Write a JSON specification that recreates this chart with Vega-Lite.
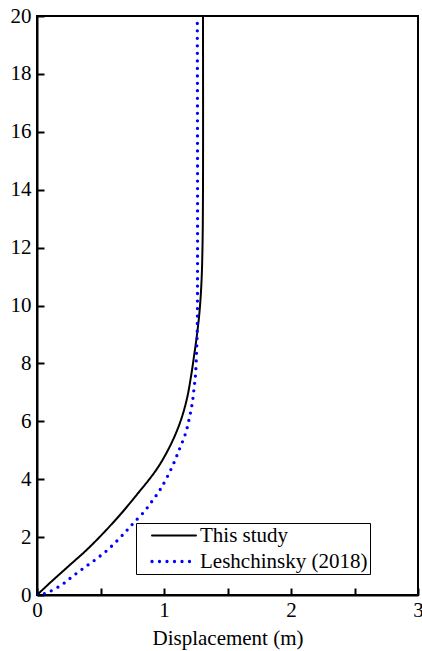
{
  "$schema": "https://vega.github.io/schema/vega-lite/v6.json",
  "width": 381,
  "height": 579,
  "autosize": {"type": "none"},
  "padding": {"left": 37, "top": 16, "right": 4, "bottom": 56},
  "background": "white",
  "config": {
    "font": "Liberation Serif",
    "view": {"stroke": "black", "strokeWidth": 2},
    "axis": {
      "grid": false,
      "domainColor": "black",
      "domainWidth": 2,
      "tickColor": "black",
      "tickWidth": 2,
      "labelFont": "Liberation Serif",
      "labelFontSize": 21,
      "labelColor": "black",
      "titleFont": "Liberation Serif",
      "titleFontSize": 21,
      "titleFontWeight": "normal",
      "titleColor": "black"
    },
    "legend": {"labelFont": "Liberation Serif", "rowPadding": 4}
  },
  "data": {
    "values": [
      {"series": "This study", "disp": 0.0, "h": 0.0},
      {"series": "This study", "disp": 0.131, "h": 0.535},
      {"series": "This study", "disp": 0.262, "h": 1.05},
      {"series": "This study", "disp": 0.394, "h": 1.57},
      {"series": "This study", "disp": 0.525, "h": 2.15},
      {"series": "This study", "disp": 0.656, "h": 2.78},
      {"series": "This study", "disp": 0.787, "h": 3.47},
      {"series": "This study", "disp": 0.942, "h": 4.34},
      {"series": "This study", "disp": 1.047, "h": 5.14},
      {"series": "This study", "disp": 1.126, "h": 5.95},
      {"series": "This study", "disp": 1.179, "h": 6.75},
      {"series": "This study", "disp": 1.213, "h": 7.56},
      {"series": "This study", "disp": 1.238, "h": 8.3},
      {"series": "This study", "disp": 1.26, "h": 9.0},
      {"series": "This study", "disp": 1.28, "h": 9.8},
      {"series": "This study", "disp": 1.295, "h": 10.8},
      {"series": "This study", "disp": 1.303, "h": 12.0},
      {"series": "This study", "disp": 1.307, "h": 14.0},
      {"series": "This study", "disp": 1.307, "h": 20.0},
      {"series": "Leshchinsky (2018)", "disp": 0.0, "h": 0.0},
      {"series": "Leshchinsky (2018)", "disp": 0.052, "h": 0.04},
      {"series": "Leshchinsky (2018)", "disp": 0.105, "h": 0.13},
      {"series": "Leshchinsky (2018)", "disp": 0.197, "h": 0.36},
      {"series": "Leshchinsky (2018)", "disp": 0.276, "h": 0.63},
      {"series": "Leshchinsky (2018)", "disp": 0.367, "h": 0.93},
      {"series": "Leshchinsky (2018)", "disp": 0.459, "h": 1.22},
      {"series": "Leshchinsky (2018)", "disp": 0.551, "h": 1.54},
      {"series": "Leshchinsky (2018)", "disp": 0.63, "h": 1.87},
      {"series": "Leshchinsky (2018)", "disp": 0.709, "h": 2.24},
      {"series": "Leshchinsky (2018)", "disp": 0.761, "h": 2.49},
      {"series": "Leshchinsky (2018)", "disp": 0.84, "h": 2.86},
      {"series": "Leshchinsky (2018)", "disp": 0.906, "h": 3.24},
      {"series": "Leshchinsky (2018)", "disp": 0.974, "h": 3.67},
      {"series": "Leshchinsky (2018)", "disp": 1.06, "h": 4.39},
      {"series": "Leshchinsky (2018)", "disp": 1.121, "h": 5.03},
      {"series": "Leshchinsky (2018)", "disp": 1.171, "h": 5.6},
      {"series": "Leshchinsky (2018)", "disp": 1.2, "h": 6.12},
      {"series": "Leshchinsky (2018)", "disp": 1.223, "h": 6.64},
      {"series": "Leshchinsky (2018)", "disp": 1.237, "h": 7.16},
      {"series": "Leshchinsky (2018)", "disp": 1.249, "h": 7.67},
      {"series": "Leshchinsky (2018)", "disp": 1.257, "h": 8.48},
      {"series": "Leshchinsky (2018)", "disp": 1.262, "h": 9.2},
      {"series": "Leshchinsky (2018)", "disp": 1.262, "h": 20.0}
    ]
  },
  "mark": {"type": "line", "strokeCap": "round", "interpolate": "catmull-rom", "clip": true},
  "encoding": {
    "x": {
      "field": "disp",
      "type": "quantitative",
      "title": "Displacement (m)",
      "scale": {"domain": [0, 3], "nice": false},
      "axis": {
        "values": [0, 0.5, 1, 1.5, 2, 2.5, 3],
        "labelExpr": "datum.value % 1 == 0 ? format(datum.value, 'd') : ''",
        "tickSize": -7,
        "labelPadding": 11,
        "labelFlush": false,
        "labelOverlap": false,
        "titlePadding": 7
      }
    },
    "y": {
      "field": "h",
      "type": "quantitative",
      "title": null,
      "scale": {"domain": [0, 20], "nice": false},
      "axis": {
        "values": [0, 2, 4, 6, 8, 10, 12, 14, 16, 18, 20],
        "tickSize": -7,
        "labelPadding": 13,
        "labelFlush": false,
        "labelOverlap": false
      }
    },
    "order": {"field": "h", "type": "quantitative"},
    "color": {
      "field": "series",
      "type": "nominal",
      "scale": {"domain": ["This study", "Leshchinsky (2018)"], "range": ["black", "#0000ff"]},
      "legend": {
        "title": null,
        "orient": "none",
        "legendX": 99,
        "legendY": 507,
        "symbolType": "stroke",
        "symbolSize": 1936,
        "symbolOffset": 12,
        "clipHeight": 21,
        "labelOffset": 2,
        "labelFontSize": 21,
        "labelColor": "black",
        "labelLimit": 400,
        "padding": 2,
        "rowPadding": 4,
        "strokeColor": "black",
        "fillColor": "white",
        "cornerRadius": 0,
        "encode": {"symbols": {"update": {"strokeCap": {"value": "round"}}}}
      }
    },
    "strokeDash": {
      "field": "series",
      "type": "nominal",
      "scale": {"domain": ["This study", "Leshchinsky (2018)"], "range": [[1, 0], [0, 7.5]]}
    },
    "strokeWidth": {
      "field": "series",
      "type": "nominal",
      "scale": {"domain": ["This study", "Leshchinsky (2018)"], "range": [2, 3.3]}
    }
  }
}
